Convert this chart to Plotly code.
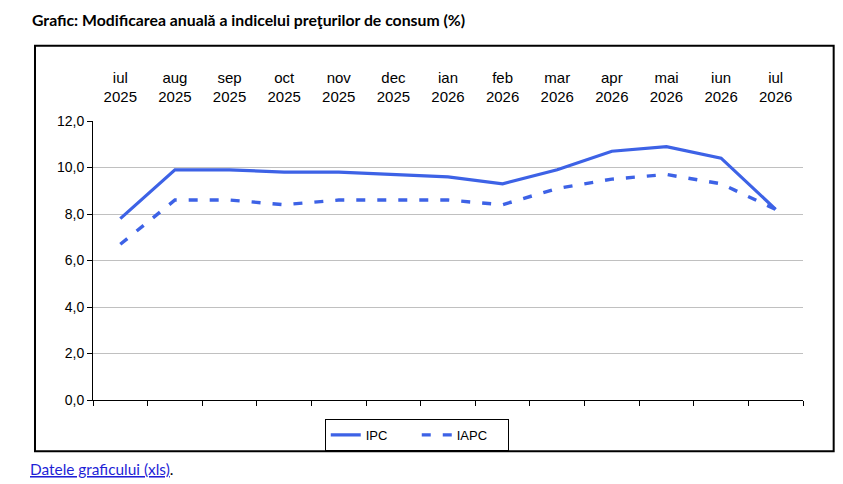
import plotly.graph_objects as go

months = ["iul", "aug", "sep", "oct", "nov", "dec", "ian", "feb", "mar", "apr", "mai", "iun", "iul"]
years = ["2025", "2025", "2025", "2025", "2025", "2025", "2026", "2026", "2026", "2026", "2026", "2026", "2026"]
categories = [f"{m} {y}" for m, y in zip(months, years)]
tick_labels = [f"{m}<br>{y}" for m, y in zip(months, years)]

ipc = [7.8, 9.9, 9.9, 9.8, 9.8, 9.7, 9.6, 9.3, 9.9, 10.7, 10.9, 10.4, 8.2]
iapc = [6.7, 8.6, 8.6, 8.4, 8.6, 8.6, 8.6, 8.4, 9.1, 9.5, 9.7, 9.3, 8.2]

y_ticks = [0, 2, 4, 6, 8, 10, 12]

BLUE = "#3D62E6"
FONT = "Liberation Sans, Arial, sans-serif"
CAT_RANGE = [-0.5, len(categories) - 0.5]

fig = go.Figure()
fig.add_trace(go.Scatter(x=categories, y=ipc, name="IPC", mode="lines",
                         line=dict(color=BLUE, width=3.2)))
fig.add_trace(go.Scatter(x=categories, y=iapc, name="IAPC", mode="lines",
                         line=dict(color=BLUE, width=3.4, dash="9px,12px")))
# invisible trace to carry the top category axis
fig.add_trace(go.Scatter(x=categories, y=ipc, xaxis="x2", mode="lines",
                         line=dict(color="rgba(0,0,0,0)"), showlegend=False,
                         hoverinfo="skip"))

fig.update_layout(
    width=843, height=484,
    margin=dict(l=93, r=40, t=121, b=84),
    paper_bgcolor="white", plot_bgcolor="white",
    separators=",.",
    font=dict(family=FONT, size=14, color="black"),
    showlegend=True,
    legend=dict(orientation="h", x=0.456, xanchor="center", y=-0.125, yanchor="middle",
                bordercolor="black", borderwidth=1, bgcolor="white",
                font=dict(family=FONT, size=13, color="black"),
                entrywidth=46, entrywidthmode="pixels", tracegroupgap=0),
    xaxis=dict(type="category", categoryorder="array", categoryarray=categories,
               range=CAT_RANGE,
               showticklabels=False, ticks="outside", tickson="boundaries",
               ticklen=5, tickcolor="black", showline=True, linecolor="black",
               linewidth=1, showgrid=False, zeroline=False),
    xaxis2=dict(type="category", categoryorder="array", categoryarray=categories,
                range=CAT_RANGE,
                overlaying="x", side="top", tickmode="array", tickvals=categories,
                ticktext=tick_labels, ticks="outside", ticklen=12,
                tickcolor="rgba(0,0,0,0)", showline=False, showgrid=False,
                zeroline=False, tickfont=dict(family=FONT, size=15, color="black")),
    yaxis=dict(range=[0, 12], tickvals=y_ticks, tickformat=".1f",
               ticks="outside", ticklen=5, tickcolor="black",
               showline=True, linecolor="black", linewidth=1,
               showgrid=True, gridcolor="#C0C0C0", gridwidth=1, zeroline=False,
               tickfont=dict(family=FONT, size=14, color="black")),
    shapes=[dict(type="rect", xref="paper", yref="paper",
                 x0=-0.0817, x1=1.0432, y0=-0.184, y1=1.270,
                 line=dict(color="black", width=2), fillcolor="rgba(0,0,0,0)",
                 layer="below")],
    annotations=[
        dict(text="<b>Grafic: Modificarea anuală a indicelui preţurilor de consum (%)</b>",
             xref="paper", yref="paper", x=(30 - 93) / 710, y=(400 - 19) / 279,
             xanchor="left", yanchor="middle", showarrow=False,
             font=dict(family="Lato, Open Sans, sans-serif", size=15.8, color="black")),
        dict(text="<span style='color:#1F1FD6'><u>Datele graficului (xls)</u></span>.",
             xref="paper", yref="paper", x=(28 - 93) / 710, y=(400 - 469) / 279,
             xanchor="left", yanchor="middle", showarrow=False,
             font=dict(family="Lato, Open Sans, sans-serif", size=15.4, color="black")),
    ],
)

fig.write_html("out.html", config={"displayModeBar": False},
               post_script="document.body.style.margin='0px';")
